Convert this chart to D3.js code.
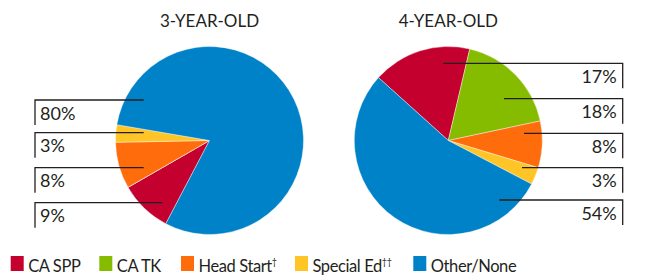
<!DOCTYPE html>
<html>
<head>
<meta charset="utf-8">
<script src="https://cdn.jsdelivr.net/npm/d3@7"></script>
<style>
  body { margin: 0; background: #fff; }
  text { font-family: Lato, "Open Sans", sans-serif; fill: #231f20; }
</style>
</head>
<body>
<svg width="660" height="277"></svg>
<script>
// categories and values
const categories = ["CA SPP", "CA TK", "Head Start", "Special Ed", "Other/None"];
const marks = ["", "", "\u2020", "\u2020\u2020", ""];
const colors = ["#c4002f", "#86bc00", "#ff6c0c", "#ffc425", "#0082c8"];
const age3 = [9, 0, 8, 3, 80];
const age4 = [17, 18, 8, 3, 54];
const titles = ["3-YEAR-OLD", "4-YEAR-OLD"];
// order of labels from top to bottom (category index)
const labelOrder3 = [4, 3, 2, 0];
const labelOrder4 = [0, 1, 2, 3, 4];

const svg = d3.select("svg");
const rad = d3.scaleLinear().domain([0, 360]).range([0, 2 * Math.PI]);

// layout of each pie
const pies = [
  { values: age3, title: titles[0], cx: 209.5, cy: 140.5, r: 94, start: 207.7,
    side: "left", bx: 35, rows: [100, 132.7, 167.7, 202.7], ends: [143.7, 143.7, 143.7, 162.3], order: labelOrder3 },
  { values: age4, title: titles[1], cx: 448.3, cy: 140.5, r: 94, start: -48,
    side: "right", bx: 622.7, rows: [63.3, 98.7, 133.3, 167.7, 200], ends: [443.3, 504, 524, 522, 499.3], order: labelOrder4 }
];

const arc = d3.arc().innerRadius(0);

pies.forEach((p) => {
  const pie = d3.pie().sort(null).value((d) => d)
    .startAngle(rad(p.start)).endAngle(rad(p.start + 360));
  const g = svg.append("g").attr("transform", "translate(" + p.cx + "," + p.cy + ")");

  g.selectAll("path")
    .data(pie(p.values))
    .enter()
    .append("path")
    .attr("d", arc.outerRadius(p.r))
    .style("fill", (d, i) => colors[i])
    .style("stroke", "#fff")
    .style("stroke-width", 0.4);

  svg.append("text")
    .attr("x", p.cx)
    .attr("y", 26.5)
    .attr("text-anchor", "middle")
    .style("font-size", "17px")
    .text(p.title);

  // leader lines with bracket ticks and percent labels
  const lab = svg.append("g");
  p.order.forEach((k, j) => {
    const y = p.rows[j];
    lab.append("path")
      .attr("d", "M" + p.ends[j] + "," + y + "H" + p.bx + "V" + (y + 25))
      .style("fill", "none")
      .style("stroke", "#231f20")
      .style("stroke-width", 1.3);
    lab.append("text")
      .attr("x", p.side === "left" ? p.bx + 5 : p.bx - 6)
      .attr("y", y + 19.5)
      .attr("text-anchor", p.side === "left" ? "start" : "end")
      .style("font-size", "18px")
      .text(p.values[k] + "%");
  });
});

// legend
const legendX = [10.7, 99.3, 181, 295, 413.3];
const legend = svg.append("g");
categories.forEach((c, i) => {
  legend.append("rect")
    .attr("x", legendX[i])
    .attr("y", 256)
    .attr("width", 13)
    .attr("height", 15)
    .style("fill", colors[i]);
  const t = legend.append("text")
    .attr("x", legendX[i] + 17.5)
    .attr("y", 271.5)
    .style("font-size", "16.5px")
    .style("letter-spacing", "-0.4px")
    .text(c);
  if (marks[i]) {
    t.append("tspan")
      .attr("dy", -7)
      .style("font-size", "9px")
      .text(marks[i]);
  }
});
</script>
</body>
</html>
